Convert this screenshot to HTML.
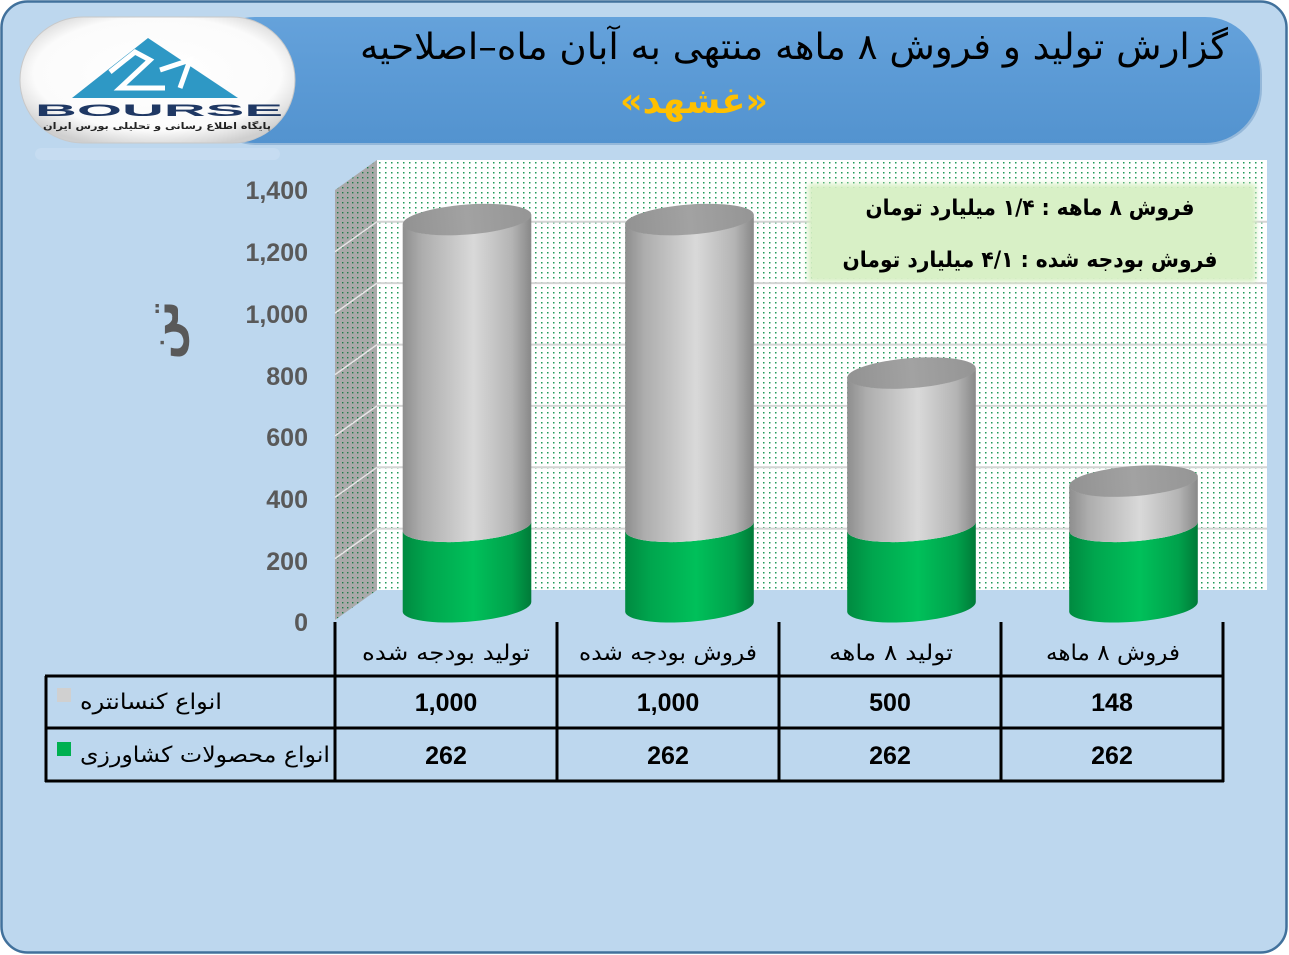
<!DOCTYPE html>
<html><head><meta charset="utf-8">
<style>
html,body{margin:0;padding:0;background:#ffffff;}
svg{display:block;}
</style></head>
<body>
<svg width="1289" height="955" viewBox="0 0 1289 955" xmlns="http://www.w3.org/2000/svg">
<defs>
  <pattern id="dots" x="377" y="160" width="6" height="5" patternUnits="userSpaceOnUse">
    <rect width="6" height="5" fill="#ffffff"/>
    <rect x="2" y="2" width="1.5" height="1.5" fill="#1f9a58"/>
  </pattern>
  <pattern id="dotsSide" x="335" y="160" width="5" height="5" patternUnits="userSpaceOnUse">
    <rect width="5" height="5" fill="#a9a9a9"/>
    <rect x="2" y="2" width="1.4" height="1.4" fill="#1f7a48"/>
  </pattern>
  <linearGradient id="gGray" x1="0" y1="0" x2="1" y2="0">
    <stop offset="0" stop-color="#8e8e8e"/>
    <stop offset="0.15" stop-color="#adadad"/>
    <stop offset="0.55" stop-color="#d9d9d9"/>
    <stop offset="0.85" stop-color="#b4b4b4"/>
    <stop offset="1" stop-color="#888888"/>
  </linearGradient>
  <linearGradient id="gGreen" x1="0" y1="0" x2="1" y2="0">
    <stop offset="0" stop-color="#008a40"/>
    <stop offset="0.2" stop-color="#00a64e"/>
    <stop offset="0.55" stop-color="#00c05a"/>
    <stop offset="0.85" stop-color="#00a14b"/>
    <stop offset="1" stop-color="#007a38"/>
  </linearGradient>
  <linearGradient id="gTop" x1="0" y1="0" x2="1" y2="0">
    <stop offset="0" stop-color="#929292"/>
    <stop offset="0.5" stop-color="#a2a2a2"/>
    <stop offset="1" stop-color="#959595"/>
  </linearGradient>
  <linearGradient id="gTitle" x1="0" y1="0" x2="0" y2="1">
    <stop offset="0" stop-color="#65a2db"/>
    <stop offset="0.5" stop-color="#5b9ad5"/>
    <stop offset="1" stop-color="#5393cf"/>
  </linearGradient>
  <radialGradient id="gPill" cx="0.5" cy="0.45" r="0.6">
    <stop offset="0" stop-color="#ffffff"/>
    <stop offset="0.75" stop-color="#fbfbfb"/>
    <stop offset="1" stop-color="#cfcfcf"/>
  </radialGradient>
  <filter id="soft" x="-5%" y="-10%" width="110%" height="120%">
    <feGaussianBlur stdDeviation="3"/>
  </filter>
</defs>

<!-- outer frame -->
<rect x="1.5" y="1.5" width="1285" height="951" rx="26" fill="#bdd7ee" stroke="#41719c" stroke-width="2.5"/>

<!-- title box -->
<rect x="200" y="19" width="1062" height="126" rx="56" fill="#4a7fb3" opacity="0.35"/>
<rect x="200" y="17" width="1060" height="126" rx="55" fill="url(#gTitle)"/>

<!-- logo pill -->
<rect x="35" y="148" width="245" height="12" rx="6" fill="#d0e2f3" opacity="0.45"/>
<rect x="20" y="17" width="275" height="126" rx="63" fill="url(#gPill)" stroke="#c8c8c8" stroke-width="1"/>
<polygon points="72,98 148,38 238,98" fill="#2e98c5"/>
<polyline points="110,72 135,52 150,60 120,88 165,88" fill="none" stroke="#ffffff" stroke-width="5"/>
<polyline points="160,70 190,60 180,88" fill="none" stroke="#ffffff" stroke-width="5"/>
<text x="159" y="116" text-anchor="middle" font-family="Liberation Sans, sans-serif" font-size="17" font-weight="bold" fill="#1f3864" textLength="248" lengthAdjust="spacingAndGlyphs">BOURSE</text>
<text x="157" y="129" text-anchor="middle" direction="rtl" font-family="DejaVu Sans, sans-serif" font-size="9" font-weight="bold" fill="#222" textLength="228" lengthAdjust="spacingAndGlyphs">پایگاه اطلاع رسانی و تحلیلی بورس ایران</text>

<!-- title text -->
<text x="794" y="59" text-anchor="middle" direction="rtl" font-family="DejaVu Sans, sans-serif" font-size="36" fill="#000" textLength="868" lengthAdjust="spacingAndGlyphs">گزارش تولید و فروش ۸ ماهه منتهی به آبان ماه–اصلاحیه</text>
<text x="694" y="113" text-anchor="middle" direction="rtl" font-family="DejaVu Sans, sans-serif" font-size="36" font-weight="bold" fill="#ffc000" textLength="148" lengthAdjust="spacingAndGlyphs">«غشهد»</text>

<!-- back wall -->
<rect x="377" y="160" width="890" height="430" fill="url(#dots)"/>
<g stroke="#d4d4d4" stroke-width="2">
  <line x1="377" y1="528.6" x2="1267" y2="528.6"/>
  <line x1="377" y1="467.3" x2="1267" y2="467.3"/>
  <line x1="377" y1="405.9" x2="1267" y2="405.9"/>
  <line x1="377" y1="344.6" x2="1267" y2="344.6"/>
  <line x1="377" y1="283.1" x2="1267" y2="283.1"/>
  <line x1="377" y1="221.7" x2="1267" y2="221.7"/>
</g>
<!-- side wall -->
<polygon points="335,190 377,160 377,590 335,620" fill="url(#dotsSide)"/>
<g stroke="#e6e6e6" stroke-width="1.5">
  <line x1="335" y1="558.6" x2="377" y2="528.6"/>
  <line x1="335" y1="497.3" x2="377" y2="467.3"/>
  <line x1="335" y1="435.9" x2="377" y2="405.9"/>
  <line x1="335" y1="374.6" x2="377" y2="344.6"/>
  <line x1="335" y1="313.1" x2="377" y2="283.1"/>
  <line x1="335" y1="251.7" x2="377" y2="221.7"/>
</g>

<!-- annotation box -->
<rect x="808" y="184" width="448" height="98" fill="#d6efc2" filter="url(#soft)"/>
<rect x="812" y="188" width="440" height="90" fill="#d8f0c6"/>
<text x="1030" y="215" text-anchor="middle" direction="rtl" font-family="DejaVu Sans, sans-serif" font-size="22" font-weight="bold" fill="#000" textLength="329" lengthAdjust="spacingAndGlyphs">فروش ۸ ماهه : ۱/۴ میلیارد تومان</text>
<text x="1030" y="267" text-anchor="middle" direction="rtl" font-family="DejaVu Sans, sans-serif" font-size="22" font-weight="bold" fill="#000" textLength="375" lengthAdjust="spacingAndGlyphs">فروش بودجه شده : ۴/۱ میلیارد تومان</text>

<!-- bars -->
<g transform="translate(467,0)">
  <path d="M-64.3,531.52 L-64.3,611.95 A64.5,15 -4.4 0 0 64.3,602.05 L64.3,521.62 A64.5,15 -4.4 0 1 -64.3,531.52 Z" fill="url(#gGreen)"/>
  <path d="M-64.3,224.52 L-64.3,531.52 A64.5,15 -4.4 0 0 64.3,521.62 L64.3,214.62 A64.5,15 -4.4 0 1 -64.3,224.52 Z" fill="url(#gGray)"/>
  <ellipse cx="0" cy="219.57" rx="64.5" ry="15" transform="rotate(-4.4 0 219.57)" fill="url(#gTop)"/>
</g>
<g transform="translate(689.5,0)">
  <path d="M-64.3,531.52 L-64.3,611.95 A64.5,15 -4.4 0 0 64.3,602.05 L64.3,521.62 A64.5,15 -4.4 0 1 -64.3,531.52 Z" fill="url(#gGreen)"/>
  <path d="M-64.3,224.52 L-64.3,531.52 A64.5,15 -4.4 0 0 64.3,521.62 L64.3,214.62 A64.5,15 -4.4 0 1 -64.3,224.52 Z" fill="url(#gGray)"/>
  <ellipse cx="0" cy="219.57" rx="64.5" ry="15" transform="rotate(-4.4 0 219.57)" fill="url(#gTop)"/>
</g>
<g transform="translate(911.5,0)">
  <path d="M-64.3,531.52 L-64.3,611.95 A64.5,15 -4.4 0 0 64.3,602.05 L64.3,521.62 A64.5,15 -4.4 0 1 -64.3,531.52 Z" fill="url(#gGreen)"/>
  <path d="M-64.3,378.02 L-64.3,531.52 A64.5,15 -4.4 0 0 64.3,521.62 L64.3,368.12 A64.5,15 -4.4 0 1 -64.3,378.02 Z" fill="url(#gGray)"/>
  <ellipse cx="0" cy="373.07" rx="64.5" ry="15" transform="rotate(-4.4 0 373.07)" fill="url(#gTop)"/>
</g>
<g transform="translate(1133.5,0)">
  <path d="M-64.3,531.52 L-64.3,611.95 A64.5,15 -4.4 0 0 64.3,602.05 L64.3,521.62 A64.5,15 -4.4 0 1 -64.3,531.52 Z" fill="url(#gGreen)"/>
  <path d="M-64.3,486.08 L-64.3,531.52 A64.5,15 -4.4 0 0 64.3,521.62 L64.3,476.18 A64.5,15 -4.4 0 1 -64.3,486.08 Z" fill="url(#gGray)"/>
  <ellipse cx="0" cy="481.13" rx="64.5" ry="15" transform="rotate(-4.4 0 481.13)" fill="url(#gTop)"/>
</g>

<!-- y axis labels -->
<g font-family="Liberation Sans, sans-serif" font-size="25" font-weight="bold" fill="#595959" text-anchor="end">
  <text x="308" y="199">1,400</text>
  <text x="308" y="261">1,200</text>
  <text x="308" y="323">1,000</text>
  <text x="308" y="385">800</text>
  <text x="308" y="446">600</text>
  <text x="308" y="508">400</text>
  <text x="308" y="570">200</text>
  <text x="308" y="631">0</text>
</g>
<text x="0" y="0" transform="translate(178,330) rotate(-90)" text-anchor="middle" direction="rtl" font-family="DejaVu Sans, sans-serif" font-size="46" font-weight="bold" fill="#595959">تن</text>

<!-- table -->
<g stroke="#000" stroke-width="3" fill="none">
  <line x1="335" y1="622" x2="335" y2="782"/>
  <line x1="557" y1="622" x2="557" y2="782"/>
  <line x1="779" y1="622" x2="779" y2="782"/>
  <line x1="1001" y1="622" x2="1001" y2="782"/>
  <line x1="1223" y1="622" x2="1223" y2="782"/>
  <line x1="46" y1="676" x2="46" y2="782"/>
  <line x1="45" y1="676" x2="1224" y2="676"/>
  <line x1="45" y1="728" x2="1224" y2="728"/>
  <line x1="45" y1="781" x2="1224" y2="781"/>
</g>
<g font-family="DejaVu Sans, sans-serif" font-size="22" fill="#000" text-anchor="middle" direction="rtl">
  <text x="446" y="660" textLength="168" lengthAdjust="spacingAndGlyphs">تولید بودجه شده</text>
  <text x="668" y="660" textLength="178" lengthAdjust="spacingAndGlyphs">فروش بودجه شده</text>
  <text x="891" y="660" textLength="124" lengthAdjust="spacingAndGlyphs">تولید ۸ ماهه</text>
  <text x="1113" y="660" textLength="134" lengthAdjust="spacingAndGlyphs">فروش ۸ ماهه</text>
  <text x="151" y="709" textLength="142" lengthAdjust="spacingAndGlyphs">انواع کنسانتره</text>
  <text x="205" y="762" textLength="250" lengthAdjust="spacingAndGlyphs">انواع محصولات کشاورزی</text>
</g>
<rect x="57" y="688" width="14" height="14" fill="#d0d0d0"/>
<rect x="57" y="742" width="14" height="14" fill="#00b050"/>
<g font-family="Liberation Sans, sans-serif" font-size="25" font-weight="bold" fill="#000" text-anchor="middle">
  <text x="446" y="711">1,000</text>
  <text x="668" y="711">1,000</text>
  <text x="890" y="711">500</text>
  <text x="1112" y="711">148</text>
  <text x="446" y="764">262</text>
  <text x="668" y="764">262</text>
  <text x="890" y="764">262</text>
  <text x="1112" y="764">262</text>
</g>
</svg>
</body></html>
